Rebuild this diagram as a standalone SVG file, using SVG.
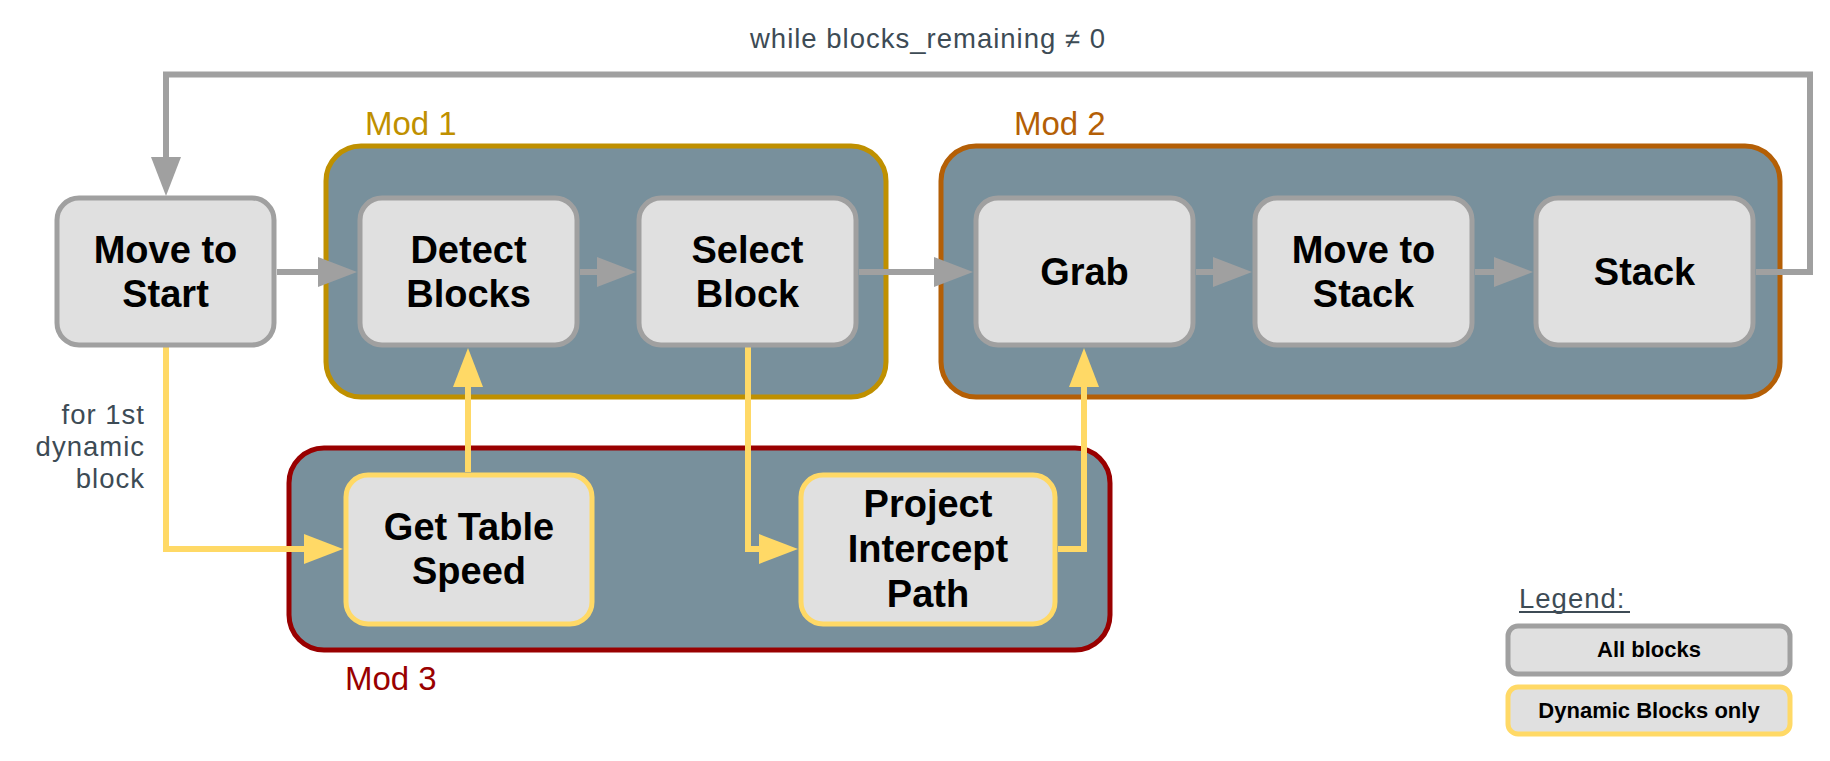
<svg xmlns="http://www.w3.org/2000/svg" width="1830" height="761" viewBox="0 0 1830 761">
<defs>
<style>
.mod{fill:#78909c;stroke-width:5}
.node{fill:#e0e0e0;stroke:#a0a0a0;stroke-width:5}
.dyn{fill:#e0e0e0;stroke:#ffd966;stroke-width:5}
.lbl{font-family:"Liberation Sans",Arial,sans-serif;font-weight:700;font-size:38px;fill:#000;text-anchor:middle}
.modlbl{font-family:"Liberation Sans",Arial,sans-serif;font-size:33px}
.note{font-family:"Liberation Sans",Arial,sans-serif;font-size:27.5px;fill:#3d4b55;letter-spacing:1px}
.cg{fill:none;stroke:#a0a0a0;stroke-width:6;stroke-linejoin:miter}
.cy{fill:none;stroke:#ffd966;stroke-width:6;stroke-linejoin:miter}
.leg{font-family:"Liberation Sans",Arial,sans-serif;font-weight:700;font-size:22px;fill:#000;text-anchor:middle}
</style>
<marker id="ag" markerUnits="userSpaceOnUse" markerWidth="39" markerHeight="30" refX="0" refY="15" orient="auto" viewBox="0 0 39 30"><path d="M0,0 L39,15 L0,30 z" fill="#a0a0a0"/></marker>
<marker id="ay" markerUnits="userSpaceOnUse" markerWidth="39" markerHeight="30" refX="0" refY="15" orient="auto" viewBox="0 0 39 30"><path d="M0,0 L39,15 L0,30 z" fill="#ffd966"/></marker>
</defs>
<rect width="1830" height="761" fill="#fff"/>

<g id="mod1">
<rect class="mod" x="326" y="146" width="560" height="251" rx="35" stroke="#bf9000"/>
<text class="modlbl" x="365" y="135" fill="#bf9000">Mod 1</text>
</g>
<g id="mod2">
<rect class="mod" x="941" y="146" width="839" height="251" rx="35" stroke="#b45f06"/>
<text class="modlbl" x="1014" y="135" fill="#b45f06">Mod 2</text>
</g>
<g id="mod3">
<rect class="mod" x="289" y="448" width="821" height="202" rx="35" stroke="#990000"/>
<text class="modlbl" x="345" y="690" fill="#990000">Mod 3</text>
</g>

<g id="connectors">
<path class="cg" d="M277,272 H318" marker-end="url(#ag)"/>
<path class="cg" d="M580,272 H597" marker-end="url(#ag)"/>
<path class="cg" d="M859,272 H934" marker-end="url(#ag)"/>
<path class="cg" d="M1196,272 H1213" marker-end="url(#ag)"/>
<path class="cg" d="M1475,272 H1494" marker-end="url(#ag)"/>
<path class="cg" d="M1756,272 H1810 V74.5 H166 V157" marker-end="url(#ag)"/>
<path class="cy" d="M166,345 V549 H304" marker-end="url(#ay)"/>
<path class="cy" d="M468,472 V387" marker-end="url(#ay)"/>
<path class="cy" d="M748,345 V549 H759" marker-end="url(#ay)"/>
<path class="cy" d="M1058,549 H1084 V387" marker-end="url(#ay)"/>
<text class="note" x="928" y="48" text-anchor="middle" font-size="29" letter-spacing="0.5">while blocks_remaining ≠ 0</text>
<text class="note" x="145" y="424" text-anchor="end">for 1st</text>
<text class="note" x="145" y="456" text-anchor="end">dynamic</text>
<text class="note" x="145" y="488" text-anchor="end">block</text>
</g>

<g id="move-to-start">
<rect class="node" x="57" y="198" width="217" height="147" rx="22"/>
<text class="lbl" x="165.5" y="263">Move to</text>
<text class="lbl" x="165.5" y="307">Start</text>
</g>
<g id="detect-blocks">
<rect class="node" x="360" y="198" width="217" height="147" rx="22"/>
<text class="lbl" x="468.5" y="263">Detect</text>
<text class="lbl" x="468.5" y="307">Blocks</text>
</g>
<g id="select-block">
<rect class="node" x="639" y="198" width="217" height="147" rx="22"/>
<text class="lbl" x="747.5" y="263">Select</text>
<text class="lbl" x="747.5" y="307">Block</text>
</g>
<g id="grab">
<rect class="node" x="976" y="198" width="217" height="147" rx="22"/>
<text class="lbl" x="1084.5" y="285">Grab</text>
</g>
<g id="move-to-stack">
<rect class="node" x="1255" y="198" width="217" height="147" rx="22"/>
<text class="lbl" x="1363.5" y="263">Move to</text>
<text class="lbl" x="1363.5" y="307">Stack</text>
</g>
<g id="stack">
<rect class="node" x="1536" y="198" width="217" height="147" rx="22"/>
<text class="lbl" x="1644.5" y="285">Stack</text>
</g>
<g id="get-table-speed">
<rect class="dyn" x="346" y="475" width="246" height="149" rx="22"/>
<text class="lbl" x="469" y="540">Get Table</text>
<text class="lbl" x="469" y="584">Speed</text>
</g>
<g id="project-intercept-path">
<rect class="dyn" x="801" y="475" width="254" height="149" rx="22"/>
<text class="lbl" x="928" y="517">Project</text>
<text class="lbl" x="928" y="562">Intercept</text>
<text class="lbl" x="928" y="607">Path</text>
</g>

<g id="legend">
<text class="note" x="1519" y="608" font-size="30" letter-spacing="0">Legend:</text>
<line x1="1519" y1="612" x2="1630" y2="612" stroke="#3d4b55" stroke-width="2"/>
<rect class="node" x="1508" y="626" width="282" height="48" rx="10"/>
<text class="leg" x="1649" y="657">All blocks</text>
<rect class="dyn" x="1508" y="687" width="282" height="47" rx="10"/>
<text class="leg" x="1649" y="718">Dynamic Blocks only</text>
</g>
</svg>
